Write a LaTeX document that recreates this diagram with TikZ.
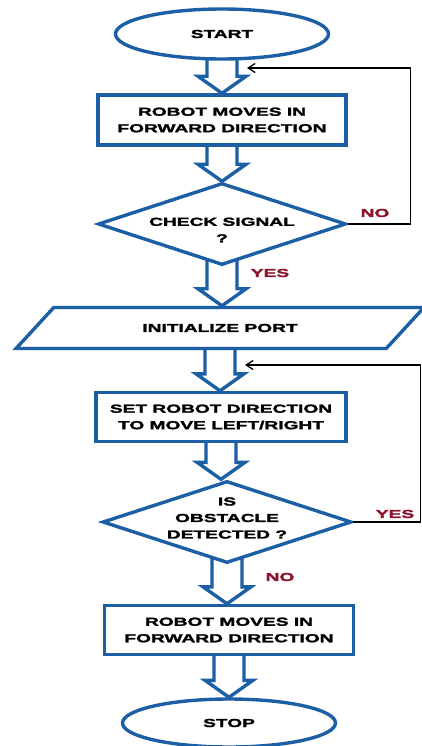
\documentclass[tikz,border=0pt]{standalone}
\usepackage{fontspec}
\newfontfamily\lab{Liberation Sans}[BoldFeatures={FakeStretch=1.65,FakeBold=2}]
\usetikzlibrary{shapes.geometric,arrows.meta,calc,backgrounds}
\definecolor{fblue}{RGB}{28,95,165}
\definecolor{lred}{RGB}{140,20,45}
\newcommand\blockarr[2]{%
  \draw[barrow] let \p1=(#1.south), \p2=(#2.north) in
    (\x1-15pt,\y1+8pt) -- (\x1-15pt,\y2+17pt) -- (\x1-24pt,\y2+17pt) -- (\x1,\y2)
    -- (\x1+24pt,\y2+17pt) -- (\x1+15pt,\y2+17pt) -- (\x1+15pt,\y1+8pt);}
\begin{document}
\begin{tikzpicture}[x=1pt,y=-1pt,
  txt/.style={font=\lab\bfseries\fontsize{11.6}{16.5}\selectfont, align=center, text=black},
  box/.style={draw=fblue, line width=3.4pt, fill=white, inner sep=0pt, txt},
  term/.style={box, ellipse},
  proc/.style={box, rectangle},
  dec/.style={box, diamond},
  io/.style={box, trapezium, trapezium left angle=25, trapezium right angle=155, trapezium stretches=true},
  barrow/.style={draw=fblue, line width=3.4pt, fill=white, line join=miter},
  fb/.style={draw=black, line width=1.3pt, -{Straight Barb[length=7pt,width=9pt]}},
  ans/.style={txt, text=lred}]
\useasboundingbox (0,0) rectangle (422,746);
\node[term, minimum width=213pt, minimum height=50pt] (start) at (222,34) {START};
\node[proc, minimum width=248pt, minimum height=50pt] (r1) at (222,120) {ROBOT MOVES IN\\FORWARD DIRECTION};
\node[dec, minimum width=248pt, minimum height=82pt] (d1) at (222,224) {};
\node[txt] (d1t) at (222,230) {CHECK SIGNAL\\?};
\node[io, minimum width=408pt, minimum height=41pt] (init) at (220,328) {INITIALIZE PORT};
\node[proc, minimum width=250pt, minimum height=49pt] (r2) at (221,417) {SET ROBOT DIRECTION\\TO MOVE LEFT/RIGHT};
\node[dec, minimum width=249pt, minimum height=82pt] (d2) at (227,522) {};
\node[txt] (d2t) at (227,518) {IS\\OBSTACLE\\DETECTED ?};
\node[proc, minimum width=249pt, minimum height=49pt] (r3) at (229,630) {ROBOT MOVES IN\\FORWARD DIRECTION};
\node[term, minimum width=213pt, minimum height=48pt] (stop) at (229,723) {STOP};
\begin{scope}[on background layer]
  \blockarr{start}{r1}
  \blockarr{r1}{d1}
  \blockarr{d1}{init}
  \blockarr{init}{r2}
  \blockarr{r2}{d2}
  \blockarr{d2}{r3}
  \blockarr{r3}{stop}
\end{scope}
\coordinate (in1) at (247,68);
\coordinate (in2) at (245,365);
\draw[fb] (d1.east) -- ++(63,0) |- (in1);
\draw[fb] (d2.east) -- ++(67,0) |- (in2);
\node[ans] (no1) at (375,213) {NO};
\node[ans] (yes1) at (270,273) {YES};
\node[ans] (yes2) at (395,514) {YES};
\node[ans] (no2) at (280,577) {NO};
\end{tikzpicture}
\end{document}
